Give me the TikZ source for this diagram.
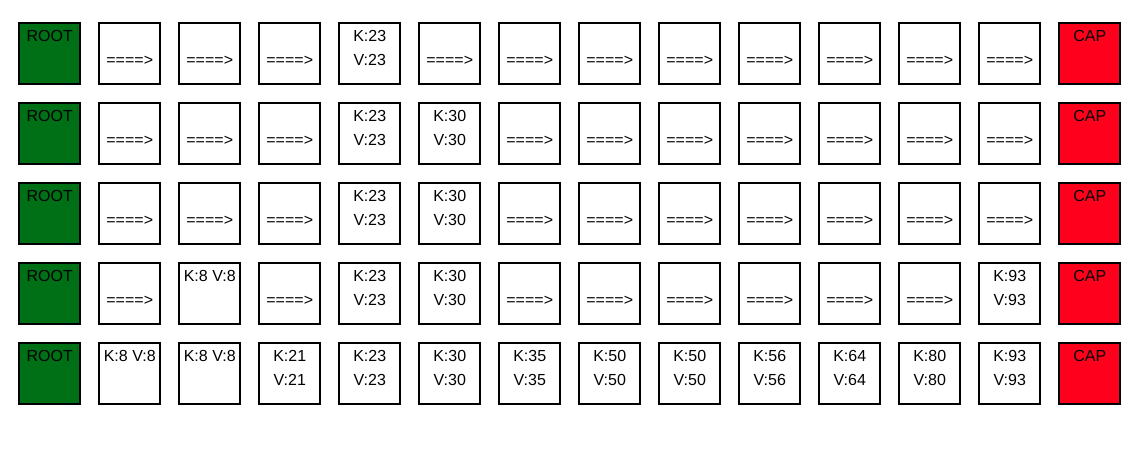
\documentclass[tikz,border=0pt]{standalone}
\usepackage{fontspec}
\setmainfont{Liberation Sans}
\definecolor{rootgreen}{RGB}{0,112,22}
\definecolor{capred}{RGB}{255,0,28}
\tikzset{
  cell/.style={draw,line width=2pt,minimum size=61pt,inner sep=0pt},
  txt/.style={font=\fontsize{16}{24}\selectfont,inner sep=0pt,anchor=base},
}
\begin{document}
\begin{tikzpicture}[x=1pt,y=-1pt]
  \useasboundingbox (0,0) rectangle (1144,464);
  \foreach \row [count=\r from 0] in {
    {/====>,/====>,/====>,K:23/V:23,/====>,/====>,/====>,/====>,/====>,/====>,/====>,/====>},
    {/====>,/====>,/====>,K:23/V:23,K:30/V:30,/====>,/====>,/====>,/====>,/====>,/====>,/====>},
    {/====>,/====>,/====>,K:23/V:23,K:30/V:30,/====>,/====>,/====>,/====>,/====>,/====>,/====>},
    {/====>,K:8 V:8/,/====>,K:23/V:23,K:30/V:30,/====>,/====>,/====>,/====>,/====>,/====>,K:93/V:93},
    {K:8 V:8/,K:8 V:8/,K:21/V:21,K:23/V:23,K:30/V:30,K:35/V:35,K:50/V:50,K:50/V:50,K:56/V:56,K:64/V:64,K:80/V:80,K:93/V:93}}{
    % root and cap ends
    \node[cell,fill=rootgreen] (root\r) at (49.75,53+80*\r) {};
    \node[txt] (roottxt\r) at ([yshift=12pt]root\r.center) {ROOT};
    \node[cell,fill=capred] (cap\r) at (1089.75,53+80*\r) {};
    \node[txt] (captxt\r) at ([yshift=12pt]cap\r.center) {CAP};
    % middle cells
    \foreach \a/\b [count=\c] in \row {
      \node[cell] (n\r-\c) at (49.75+80*\c,53+80*\r) {};
      \node[txt] (n\r-\c-a) at ([yshift=12pt]n\r-\c.center) {\a};
      \node[txt] (n\r-\c-b) at ([yshift=-12pt]n\r-\c.center) {\b};
    }
  }
\end{tikzpicture}
\end{document}
